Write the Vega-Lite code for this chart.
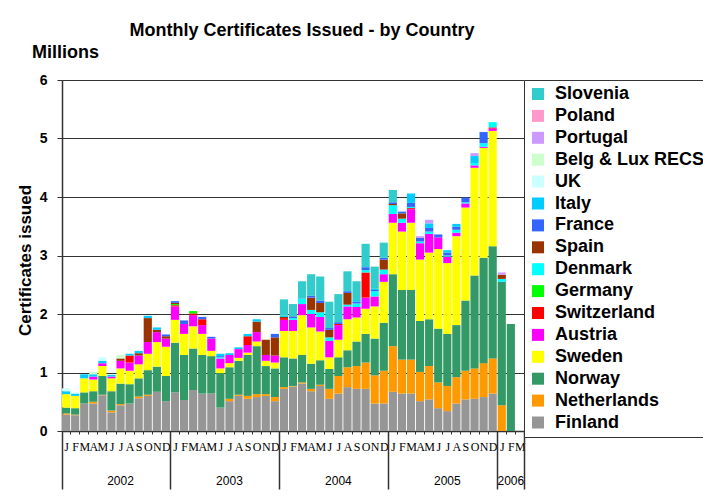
{
  "$schema": "https://vega.github.io/schema/vega-lite/v6.json",
  "width": 462,
  "height": 351,
  "autosize": {"type": "none"},
  "padding": {"left": 62, "top": 80, "right": 179, "bottom": 68},
  "background": "white",
  "config": {"font": "Liberation Sans", "view": {"stroke": null}},
  "title": {"text": "Monthly Certificates Issued - by Country", "fontSize": 18, "fontWeight": "bold", "font": "Liberation Sans", "anchor": "middle", "dx": 9, "offset": 3, "color": "black"},
  "data": {"name": "certs"},
  "datasets": {
    "countries": [
      {"country": "Finland", "stackOrder": 1},
      {"country": "Netherlands", "stackOrder": 2},
      {"country": "Norway", "stackOrder": 3},
      {"country": "Sweden", "stackOrder": 4},
      {"country": "Austria", "stackOrder": 5},
      {"country": "Switzerland", "stackOrder": 6},
      {"country": "Germany", "stackOrder": 7},
      {"country": "Denmark", "stackOrder": 8},
      {"country": "Spain", "stackOrder": 9},
      {"country": "France", "stackOrder": 10},
      {"country": "Italy", "stackOrder": 11},
      {"country": "UK", "stackOrder": 12},
      {"country": "Belg & Lux RECS", "stackOrder": 13},
      {"country": "Portugal", "stackOrder": 14},
      {"country": "Poland", "stackOrder": 15},
      {"country": "Slovenia", "stackOrder": 16}
    ],
    "certs": [
      {"month": "2002-01", "country": "Finland", "value": 0.28},
      {"month": "2002-01", "country": "Netherlands", "value": 0.02},
      {"month": "2002-01", "country": "Norway", "value": 0.10},
      {"month": "2002-01", "country": "Sweden", "value": 0.23},
      {"month": "2002-01", "country": "Italy", "value": 0.05},
      {"month": "2002-01", "country": "UK", "value": 0.05},
      {"month": "2002-02", "country": "Finland", "value": 0.27},
      {"month": "2002-02", "country": "Netherlands", "value": 0.01},
      {"month": "2002-02", "country": "Norway", "value": 0.11},
      {"month": "2002-02", "country": "Sweden", "value": 0.21},
      {"month": "2002-02", "country": "Italy", "value": 0.04},
      {"month": "2002-02", "country": "UK", "value": 0.02},
      {"month": "2002-03", "country": "Finland", "value": 0.47},
      {"month": "2002-03", "country": "Norway", "value": 0.19},
      {"month": "2002-03", "country": "Sweden", "value": 0.24},
      {"month": "2002-03", "country": "Italy", "value": 0.07},
      {"month": "2002-04", "country": "Finland", "value": 0.47},
      {"month": "2002-04", "country": "Netherlands", "value": 0.03},
      {"month": "2002-04", "country": "Norway", "value": 0.18},
      {"month": "2002-04", "country": "Sweden", "value": 0.20},
      {"month": "2002-04", "country": "Austria", "value": 0.05},
      {"month": "2002-04", "country": "Italy", "value": 0.04},
      {"month": "2002-04", "country": "Belg & Lux RECS", "value": 0.04},
      {"month": "2002-05", "country": "Finland", "value": 0.61},
      {"month": "2002-05", "country": "Netherlands", "value": 0.01},
      {"month": "2002-05", "country": "Norway", "value": 0.32},
      {"month": "2002-05", "country": "Sweden", "value": 0.17},
      {"month": "2002-05", "country": "Austria", "value": 0.05},
      {"month": "2002-05", "country": "Italy", "value": 0.04},
      {"month": "2002-05", "country": "UK", "value": 0.06},
      {"month": "2002-06", "country": "Finland", "value": 0.32},
      {"month": "2002-06", "country": "Netherlands", "value": 0.03},
      {"month": "2002-06", "country": "Norway", "value": 0.33},
      {"month": "2002-06", "country": "Sweden", "value": 0.22},
      {"month": "2002-06", "country": "Austria", "value": 0.03},
      {"month": "2002-06", "country": "Italy", "value": 0.03},
      {"month": "2002-07", "country": "Finland", "value": 0.44},
      {"month": "2002-07", "country": "Netherlands", "value": 0.02},
      {"month": "2002-07", "country": "Norway", "value": 0.35},
      {"month": "2002-07", "country": "Sweden", "value": 0.26},
      {"month": "2002-07", "country": "Austria", "value": 0.13},
      {"month": "2002-07", "country": "Spain", "value": 0.04},
      {"month": "2002-07", "country": "Belg & Lux RECS", "value": 0.06},
      {"month": "2002-08", "country": "Finland", "value": 0.47},
      {"month": "2002-08", "country": "Norway", "value": 0.33},
      {"month": "2002-08", "country": "Sweden", "value": 0.23},
      {"month": "2002-08", "country": "Austria", "value": 0.14},
      {"month": "2002-08", "country": "Switzerland", "value": 0.12},
      {"month": "2002-08", "country": "Italy", "value": 0.03},
      {"month": "2002-09", "country": "Finland", "value": 0.56},
      {"month": "2002-09", "country": "Netherlands", "value": 0.03},
      {"month": "2002-09", "country": "Norway", "value": 0.31},
      {"month": "2002-09", "country": "Sweden", "value": 0.24},
      {"month": "2002-09", "country": "Austria", "value": 0.15},
      {"month": "2002-09", "country": "Spain", "value": 0.04},
      {"month": "2002-09", "country": "Italy", "value": 0.04},
      {"month": "2002-10", "country": "Finland", "value": 0.60},
      {"month": "2002-10", "country": "Netherlands", "value": 0.02},
      {"month": "2002-10", "country": "Norway", "value": 0.42},
      {"month": "2002-10", "country": "Sweden", "value": 0.28},
      {"month": "2002-10", "country": "Austria", "value": 0.20},
      {"month": "2002-10", "country": "Spain", "value": 0.41},
      {"month": "2002-10", "country": "Italy", "value": 0.04},
      {"month": "2002-11", "country": "Finland", "value": 0.67},
      {"month": "2002-11", "country": "Norway", "value": 0.43},
      {"month": "2002-11", "country": "Sweden", "value": 0.42},
      {"month": "2002-11", "country": "Austria", "value": 0.17},
      {"month": "2002-11", "country": "Spain", "value": 0.04},
      {"month": "2002-11", "country": "Italy", "value": 0.04},
      {"month": "2002-12", "country": "Finland", "value": 0.51},
      {"month": "2002-12", "country": "Norway", "value": 0.43},
      {"month": "2002-12", "country": "Sweden", "value": 0.50},
      {"month": "2002-12", "country": "Austria", "value": 0.14},
      {"month": "2002-12", "country": "Spain", "value": 0.04},
      {"month": "2002-12", "country": "France", "value": 0.03},
      {"month": "2003-01", "country": "Finland", "value": 0.66},
      {"month": "2003-01", "country": "Norway", "value": 0.85},
      {"month": "2003-01", "country": "Sweden", "value": 0.39},
      {"month": "2003-01", "country": "Austria", "value": 0.23},
      {"month": "2003-01", "country": "Switzerland", "value": 0.02},
      {"month": "2003-01", "country": "Germany", "value": 0.02},
      {"month": "2003-01", "country": "Spain", "value": 0.02},
      {"month": "2003-01", "country": "France", "value": 0.03},
      {"month": "2003-02", "country": "Finland", "value": 0.53},
      {"month": "2003-02", "country": "Norway", "value": 0.77},
      {"month": "2003-02", "country": "Sweden", "value": 0.36},
      {"month": "2003-02", "country": "Austria", "value": 0.17},
      {"month": "2003-02", "country": "France", "value": 0.06},
      {"month": "2003-03", "country": "Finland", "value": 0.70},
      {"month": "2003-03", "country": "Norway", "value": 0.71},
      {"month": "2003-03", "country": "Sweden", "value": 0.38},
      {"month": "2003-03", "country": "Austria", "value": 0.19},
      {"month": "2003-03", "country": "Switzerland", "value": 0.03},
      {"month": "2003-03", "country": "Germany", "value": 0.04},
      {"month": "2003-04", "country": "Finland", "value": 0.64},
      {"month": "2003-04", "country": "Norway", "value": 0.66},
      {"month": "2003-04", "country": "Sweden", "value": 0.36},
      {"month": "2003-04", "country": "Austria", "value": 0.15},
      {"month": "2003-04", "country": "Switzerland", "value": 0.10},
      {"month": "2003-04", "country": "France", "value": 0.04},
      {"month": "2003-05", "country": "Finland", "value": 0.64},
      {"month": "2003-05", "country": "Norway", "value": 0.64},
      {"month": "2003-05", "country": "Sweden", "value": 0.09},
      {"month": "2003-05", "country": "Austria", "value": 0.21},
      {"month": "2003-05", "country": "France", "value": 0.03},
      {"month": "2003-06", "country": "Finland", "value": 0.40},
      {"month": "2003-06", "country": "Norway", "value": 0.59},
      {"month": "2003-06", "country": "Sweden", "value": 0.08},
      {"month": "2003-06", "country": "Austria", "value": 0.17},
      {"month": "2003-06", "country": "Denmark", "value": 0.02},
      {"month": "2003-06", "country": "France", "value": 0.02},
      {"month": "2003-06", "country": "Italy", "value": 0.04},
      {"month": "2003-07", "country": "Finland", "value": 0.51},
      {"month": "2003-07", "country": "Netherlands", "value": 0.04},
      {"month": "2003-07", "country": "Norway", "value": 0.54},
      {"month": "2003-07", "country": "Sweden", "value": 0.07},
      {"month": "2003-07", "country": "Austria", "value": 0.14},
      {"month": "2003-07", "country": "Italy", "value": 0.03},
      {"month": "2003-08", "country": "Finland", "value": 0.60},
      {"month": "2003-08", "country": "Netherlands", "value": 0.02},
      {"month": "2003-08", "country": "Norway", "value": 0.58},
      {"month": "2003-08", "country": "Sweden", "value": 0.05},
      {"month": "2003-08", "country": "Austria", "value": 0.15},
      {"month": "2003-08", "country": "Italy", "value": 0.03},
      {"month": "2003-09", "country": "Finland", "value": 0.55},
      {"month": "2003-09", "country": "Netherlands", "value": 0.05},
      {"month": "2003-09", "country": "Norway", "value": 0.70},
      {"month": "2003-09", "country": "Sweden", "value": 0.04},
      {"month": "2003-09", "country": "Austria", "value": 0.13},
      {"month": "2003-09", "country": "Switzerland", "value": 0.15},
      {"month": "2003-09", "country": "Italy", "value": 0.04},
      {"month": "2003-10", "country": "Finland", "value": 0.58},
      {"month": "2003-10", "country": "Netherlands", "value": 0.05},
      {"month": "2003-10", "country": "Norway", "value": 0.82},
      {"month": "2003-10", "country": "Sweden", "value": 0.08},
      {"month": "2003-10", "country": "Austria", "value": 0.16},
      {"month": "2003-10", "country": "Spain", "value": 0.18},
      {"month": "2003-10", "country": "Italy", "value": 0.04},
      {"month": "2003-11", "country": "Finland", "value": 0.60},
      {"month": "2003-11", "country": "Netherlands", "value": 0.03},
      {"month": "2003-11", "country": "Norway", "value": 0.48},
      {"month": "2003-11", "country": "Sweden", "value": 0.09},
      {"month": "2003-11", "country": "Austria", "value": 0.10},
      {"month": "2003-11", "country": "Spain", "value": 0.26},
      {"month": "2003-12", "country": "Finland", "value": 0.51},
      {"month": "2003-12", "country": "Netherlands", "value": 0.07},
      {"month": "2003-12", "country": "Norway", "value": 0.49},
      {"month": "2003-12", "country": "Sweden", "value": 0.10},
      {"month": "2003-12", "country": "Austria", "value": 0.12},
      {"month": "2003-12", "country": "Spain", "value": 0.31},
      {"month": "2003-12", "country": "France", "value": 0.06},
      {"month": "2004-01", "country": "Finland", "value": 0.72},
      {"month": "2004-01", "country": "Netherlands", "value": 0.03},
      {"month": "2004-01", "country": "Norway", "value": 0.51},
      {"month": "2004-01", "country": "Sweden", "value": 0.45},
      {"month": "2004-01", "country": "Austria", "value": 0.19},
      {"month": "2004-01", "country": "Switzerland", "value": 0.03},
      {"month": "2004-01", "country": "Spain", "value": 0.02},
      {"month": "2004-01", "country": "Italy", "value": 0.02},
      {"month": "2004-01", "country": "Slovenia", "value": 0.28},
      {"month": "2004-02", "country": "Finland", "value": 0.76},
      {"month": "2004-02", "country": "Netherlands", "value": 0.01},
      {"month": "2004-02", "country": "Norway", "value": 0.47},
      {"month": "2004-02", "country": "Sweden", "value": 0.47},
      {"month": "2004-02", "country": "Austria", "value": 0.19},
      {"month": "2004-02", "country": "Denmark", "value": 0.03},
      {"month": "2004-02", "country": "France", "value": 0.03},
      {"month": "2004-02", "country": "Slovenia", "value": 0.21},
      {"month": "2004-03", "country": "Finland", "value": 0.81},
      {"month": "2004-03", "country": "Netherlands", "value": 0.02},
      {"month": "2004-03", "country": "Norway", "value": 0.47},
      {"month": "2004-03", "country": "Sweden", "value": 0.68},
      {"month": "2004-03", "country": "Austria", "value": 0.19},
      {"month": "2004-03", "country": "Denmark", "value": 0.09},
      {"month": "2004-03", "country": "Slovenia", "value": 0.30},
      {"month": "2004-04", "country": "Finland", "value": 0.68},
      {"month": "2004-04", "country": "Netherlands", "value": 0.04},
      {"month": "2004-04", "country": "Norway", "value": 0.43},
      {"month": "2004-04", "country": "Sweden", "value": 0.62},
      {"month": "2004-04", "country": "Austria", "value": 0.23},
      {"month": "2004-04", "country": "Denmark", "value": 0.07},
      {"month": "2004-04", "country": "Spain", "value": 0.21},
      {"month": "2004-04", "country": "France", "value": 0.03},
      {"month": "2004-04", "country": "Slovenia", "value": 0.37},
      {"month": "2004-05", "country": "Finland", "value": 0.77},
      {"month": "2004-05", "country": "Netherlands", "value": 0.02},
      {"month": "2004-05", "country": "Norway", "value": 0.42},
      {"month": "2004-05", "country": "Sweden", "value": 0.49},
      {"month": "2004-05", "country": "Austria", "value": 0.25},
      {"month": "2004-05", "country": "Denmark", "value": 0.08},
      {"month": "2004-05", "country": "Spain", "value": 0.16},
      {"month": "2004-05", "country": "France", "value": 0.04},
      {"month": "2004-05", "country": "Slovenia", "value": 0.41},
      {"month": "2004-06", "country": "Finland", "value": 0.55},
      {"month": "2004-06", "country": "Netherlands", "value": 0.17},
      {"month": "2004-06", "country": "Norway", "value": 0.34},
      {"month": "2004-06", "country": "Sweden", "value": 0.20},
      {"month": "2004-06", "country": "Austria", "value": 0.28},
      {"month": "2004-06", "country": "Denmark", "value": 0.06},
      {"month": "2004-06", "country": "Spain", "value": 0.13},
      {"month": "2004-06", "country": "France", "value": 0.03},
      {"month": "2004-06", "country": "Slovenia", "value": 0.45},
      {"month": "2004-07", "country": "Finland", "value": 0.64},
      {"month": "2004-07", "country": "Netherlands", "value": 0.30},
      {"month": "2004-07", "country": "Norway", "value": 0.32},
      {"month": "2004-07", "country": "Sweden", "value": 0.30},
      {"month": "2004-07", "country": "Austria", "value": 0.25},
      {"month": "2004-07", "country": "Switzerland", "value": 0.02},
      {"month": "2004-07", "country": "France", "value": 0.03},
      {"month": "2004-07", "country": "Slovenia", "value": 0.48},
      {"month": "2004-08", "country": "Finland", "value": 0.75},
      {"month": "2004-08", "country": "Netherlands", "value": 0.34},
      {"month": "2004-08", "country": "Norway", "value": 0.29},
      {"month": "2004-08", "country": "Sweden", "value": 0.53},
      {"month": "2004-08", "country": "Austria", "value": 0.22},
      {"month": "2004-08", "country": "Denmark", "value": 0.03},
      {"month": "2004-08", "country": "Spain", "value": 0.20},
      {"month": "2004-08", "country": "France", "value": 0.03},
      {"month": "2004-08", "country": "Slovenia", "value": 0.34},
      {"month": "2004-09", "country": "Finland", "value": 0.72},
      {"month": "2004-09", "country": "Netherlands", "value": 0.39},
      {"month": "2004-09", "country": "Norway", "value": 0.42},
      {"month": "2004-09", "country": "Sweden", "value": 0.41},
      {"month": "2004-09", "country": "Austria", "value": 0.18},
      {"month": "2004-09", "country": "Denmark", "value": 0.06},
      {"month": "2004-09", "country": "France", "value": 0.03},
      {"month": "2004-09", "country": "Italy", "value": 0.03},
      {"month": "2004-09", "country": "Slovenia", "value": 0.32},
      {"month": "2004-10", "country": "Finland", "value": 0.72},
      {"month": "2004-10", "country": "Netherlands", "value": 0.45},
      {"month": "2004-10", "country": "Norway", "value": 0.49},
      {"month": "2004-10", "country": "Sweden", "value": 0.43},
      {"month": "2004-10", "country": "Austria", "value": 0.19},
      {"month": "2004-10", "country": "Switzerland", "value": 0.43},
      {"month": "2004-10", "country": "Denmark", "value": 0.04},
      {"month": "2004-10", "country": "France", "value": 0.05},
      {"month": "2004-10", "country": "Slovenia", "value": 0.40},
      {"month": "2004-11", "country": "Finland", "value": 0.47},
      {"month": "2004-11", "country": "Netherlands", "value": 0.48},
      {"month": "2004-11", "country": "Norway", "value": 0.63},
      {"month": "2004-11", "country": "Sweden", "value": 0.55},
      {"month": "2004-11", "country": "Austria", "value": 0.17},
      {"month": "2004-11", "country": "Denmark", "value": 0.09},
      {"month": "2004-11", "country": "France", "value": 0.02},
      {"month": "2004-11", "country": "Italy", "value": 0.02},
      {"month": "2004-11", "country": "Slovenia", "value": 0.38},
      {"month": "2004-12", "country": "Finland", "value": 0.47},
      {"month": "2004-12", "country": "Netherlands", "value": 0.56},
      {"month": "2004-12", "country": "Norway", "value": 0.82},
      {"month": "2004-12", "country": "Sweden", "value": 0.70},
      {"month": "2004-12", "country": "Austria", "value": 0.13},
      {"month": "2004-12", "country": "Denmark", "value": 0.08},
      {"month": "2004-12", "country": "Spain", "value": 0.17},
      {"month": "2004-12", "country": "France", "value": 0.03},
      {"month": "2004-12", "country": "Slovenia", "value": 0.26},
      {"month": "2005-01", "country": "Finland", "value": 0.67},
      {"month": "2005-01", "country": "Netherlands", "value": 0.78},
      {"month": "2005-01", "country": "Norway", "value": 1.23},
      {"month": "2005-01", "country": "Sweden", "value": 0.88},
      {"month": "2005-01", "country": "Austria", "value": 0.15},
      {"month": "2005-01", "country": "Denmark", "value": 0.15},
      {"month": "2005-01", "country": "Spain", "value": 0.02},
      {"month": "2005-01", "country": "France", "value": 0.03},
      {"month": "2005-01", "country": "Slovenia", "value": 0.21},
      {"month": "2005-02", "country": "Finland", "value": 0.64},
      {"month": "2005-02", "country": "Netherlands", "value": 0.58},
      {"month": "2005-02", "country": "Norway", "value": 1.19},
      {"month": "2005-02", "country": "Sweden", "value": 1.00},
      {"month": "2005-02", "country": "Austria", "value": 0.15},
      {"month": "2005-02", "country": "Denmark", "value": 0.07},
      {"month": "2005-02", "country": "Spain", "value": 0.09},
      {"month": "2005-02", "country": "France", "value": 0.03},
      {"month": "2005-03", "country": "Finland", "value": 0.64},
      {"month": "2005-03", "country": "Netherlands", "value": 0.58},
      {"month": "2005-03", "country": "Norway", "value": 1.19},
      {"month": "2005-03", "country": "Sweden", "value": 1.15},
      {"month": "2005-03", "country": "Austria", "value": 0.23},
      {"month": "2005-03", "country": "Switzerland", "value": 0.02},
      {"month": "2005-03", "country": "Denmark", "value": 0.02},
      {"month": "2005-03", "country": "France", "value": 0.07},
      {"month": "2005-03", "country": "Italy", "value": 0.16},
      {"month": "2005-04", "country": "Finland", "value": 0.51},
      {"month": "2005-04", "country": "Netherlands", "value": 0.50},
      {"month": "2005-04", "country": "Norway", "value": 0.87},
      {"month": "2005-04", "country": "Sweden", "value": 1.05},
      {"month": "2005-04", "country": "Austria", "value": 0.28},
      {"month": "2005-04", "country": "Denmark", "value": 0.03},
      {"month": "2005-04", "country": "France", "value": 0.06},
      {"month": "2005-04", "country": "Portugal", "value": 0.03},
      {"month": "2005-05", "country": "Finland", "value": 0.54},
      {"month": "2005-05", "country": "Netherlands", "value": 0.57},
      {"month": "2005-05", "country": "Norway", "value": 0.80},
      {"month": "2005-05", "country": "Sweden", "value": 1.14},
      {"month": "2005-05", "country": "Austria", "value": 0.32},
      {"month": "2005-05", "country": "Denmark", "value": 0.04},
      {"month": "2005-05", "country": "France", "value": 0.06},
      {"month": "2005-05", "country": "Italy", "value": 0.08},
      {"month": "2005-05", "country": "Portugal", "value": 0.06},
      {"month": "2005-06", "country": "Finland", "value": 0.39},
      {"month": "2005-06", "country": "Netherlands", "value": 0.44},
      {"month": "2005-06", "country": "Norway", "value": 0.92},
      {"month": "2005-06", "country": "Sweden", "value": 1.36},
      {"month": "2005-06", "country": "Austria", "value": 0.20},
      {"month": "2005-06", "country": "France", "value": 0.05},
      {"month": "2005-07", "country": "Finland", "value": 0.34},
      {"month": "2005-07", "country": "Netherlands", "value": 0.43},
      {"month": "2005-07", "country": "Norway", "value": 0.89},
      {"month": "2005-07", "country": "Sweden", "value": 1.21},
      {"month": "2005-07", "country": "Austria", "value": 0.11},
      {"month": "2005-07", "country": "Denmark", "value": 0.02},
      {"month": "2005-07", "country": "France", "value": 0.05},
      {"month": "2005-07", "country": "Italy", "value": 0.04},
      {"month": "2005-08", "country": "Finland", "value": 0.47},
      {"month": "2005-08", "country": "Netherlands", "value": 0.45},
      {"month": "2005-08", "country": "Norway", "value": 0.89},
      {"month": "2005-08", "country": "Sweden", "value": 1.52},
      {"month": "2005-08", "country": "Austria", "value": 0.06},
      {"month": "2005-08", "country": "Denmark", "value": 0.05},
      {"month": "2005-08", "country": "France", "value": 0.05},
      {"month": "2005-08", "country": "Italy", "value": 0.05},
      {"month": "2005-09", "country": "Finland", "value": 0.54},
      {"month": "2005-09", "country": "Netherlands", "value": 0.49},
      {"month": "2005-09", "country": "Norway", "value": 1.20},
      {"month": "2005-09", "country": "Sweden", "value": 1.59},
      {"month": "2005-09", "country": "Austria", "value": 0.07},
      {"month": "2005-09", "country": "Denmark", "value": 0.02},
      {"month": "2005-09", "country": "France", "value": 0.08},
      {"month": "2005-10", "country": "Finland", "value": 0.55},
      {"month": "2005-10", "country": "Netherlands", "value": 0.52},
      {"month": "2005-10", "country": "Norway", "value": 1.59},
      {"month": "2005-10", "country": "Sweden", "value": 1.84},
      {"month": "2005-10", "country": "Austria", "value": 0.04},
      {"month": "2005-10", "country": "Denmark", "value": 0.04},
      {"month": "2005-10", "country": "Italy", "value": 0.12},
      {"month": "2005-10", "country": "Portugal", "value": 0.05},
      {"month": "2005-11", "country": "Finland", "value": 0.58},
      {"month": "2005-11", "country": "Netherlands", "value": 0.58},
      {"month": "2005-11", "country": "Norway", "value": 1.80},
      {"month": "2005-11", "country": "Sweden", "value": 1.88},
      {"month": "2005-11", "country": "Austria", "value": 0.02},
      {"month": "2005-11", "country": "Denmark", "value": 0.06},
      {"month": "2005-11", "country": "France", "value": 0.19},
      {"month": "2005-12", "country": "Finland", "value": 0.64},
      {"month": "2005-12", "country": "Netherlands", "value": 0.60},
      {"month": "2005-12", "country": "Norway", "value": 1.92},
      {"month": "2005-12", "country": "Sweden", "value": 1.97},
      {"month": "2005-12", "country": "Austria", "value": 0.04},
      {"month": "2005-12", "country": "Switzerland", "value": 0.02},
      {"month": "2005-12", "country": "Denmark", "value": 0.09},
      {"month": "2006-01", "country": "Netherlands", "value": 0.44},
      {"month": "2006-01", "country": "Norway", "value": 2.11},
      {"month": "2006-01", "country": "Denmark", "value": 0.05},
      {"month": "2006-01", "country": "Spain", "value": 0.07},
      {"month": "2006-01", "country": "Portugal", "value": 0.04},
      {"month": "2006-02", "country": "Norway", "value": 1.83}
    ]
  },
  "layer": [
    {
      "transform": [{"lookup": "country", "from": {"data": {"name": "countries"}, "key": "country", "fields": ["stackOrder"]}}],
      "mark": {"type": "bar"},
      "encoding": {
        "x": {
          "field": "month", "type": "ordinal",
          "scale": {"domain": ["2002-01","2002-02","2002-03","2002-04","2002-05","2002-06","2002-07","2002-08","2002-09","2002-10","2002-11","2002-12","2003-01","2003-02","2003-03","2003-04","2003-05","2003-06","2003-07","2003-08","2003-09","2003-10","2003-11","2003-12","2004-01","2004-02","2004-03","2004-04","2004-05","2004-06","2004-07","2004-08","2004-09","2004-10","2004-11","2004-12","2005-01","2005-02","2005-03","2005-04","2005-05","2005-06","2005-07","2005-08","2005-09","2005-10","2005-11","2005-12","2006-01","2006-02","2006-03"], "paddingInner": 0.1, "paddingOuter": 0},
          "axis": {"orient": "bottom", "title": null, "labelExpr": "['J','F','M','A','M','J','J','A','S','O','N','D'][toNumber(substring(datum.value,5,7))-1]", "labelAngle": 0, "labelFont": "Liberation Sans Narrow", "labelFontSize": 12, "labelColor": "black", "labelPadding": 7, "labelOverlap": false, "tickBand": "extent", "tickSize": 3, "tickColor": "#333", "domainColor": "#333", "domainWidth": 1.5, "grid": false}
        },
        "y": {
          "field": "value", "type": "quantitative", "stack": "zero",
          "scale": {"domain": [0, 6], "nice": false},
          "axis": {"orient": "left", "values": [0,1,2,3,4,5,6], "format": "d", "title": "Certificates issued", "titleFontSize": 17, "titleFontWeight": "bold", "titleColor": "black", "titleX": -37, "titleY": 180, "titleAlign": "center", "titleBaseline": "middle", "titleAngle": -90, "labelFontSize": 14, "labelFontWeight": "bold", "labelColor": "black", "labelPadding": 10, "tickSize": 5, "tickColor": "#333", "domainColor": "#333", "domainWidth": 1.5, "grid": true, "gridColor": "#333", "gridWidth": 1.2}
        },
        "order": {"field": "stackOrder", "type": "quantitative", "sort": "ascending"},
        "color": {
          "field": "country", "type": "nominal",
          "sort": ["Slovenia","Poland","Portugal","Belg & Lux RECS","UK","Italy","France","Spain","Denmark","Germany","Switzerland","Austria","Sweden","Norway","Netherlands","Finland"],
          "scale": {"domain": ["Slovenia","Poland","Portugal","Belg & Lux RECS","UK","Italy","France","Spain","Denmark","Germany","Switzerland","Austria","Sweden","Norway","Netherlands","Finland"], "range": ["#33CCCC","#FF99CC","#CC99FF","#CCFFCC","#CCFFFF","#00CCFF","#3366FF","#993300","#00FFFF","#00FF00","#FF0000","#FF00FF","#FFFF00","#339966","#FF9900","#969696"]},
          "legend": {"title": null, "orient": "none", "legendX": 462, "legendY": 0, "symbolType": "square", "symbolSize": 144, "symbolStrokeWidth": 0, "labelFontSize": 18, "labelFontWeight": "bold", "labelColor": "black", "labelOffset": 8, "rowPadding": 3.9, "padding": 5, "strokeColor": "#333", "fillColor": "white", "labelLimit": 300}
        }
      }
    },
    {
      "mark": {"type": "point", "opacity": 0},
      "encoding": {
        "x": {
          "field": "month", "type": "ordinal",
          "scale": {"domain": ["2002-01","2002-02","2002-03","2002-04","2002-05","2002-06","2002-07","2002-08","2002-09","2002-10","2002-11","2002-12","2003-01","2003-02","2003-03","2003-04","2003-05","2003-06","2003-07","2003-08","2003-09","2003-10","2003-11","2003-12","2004-01","2004-02","2004-03","2004-04","2004-05","2004-06","2004-07","2004-08","2004-09","2004-10","2004-11","2004-12","2005-01","2005-02","2005-03","2005-04","2005-05","2005-06","2005-07","2005-08","2005-09","2005-10","2005-11","2005-12","2006-01","2006-02","2006-03"], "paddingInner": 0.1, "paddingOuter": 0},
          "axis": {"orient": "bottom", "title": null, "values": ["2002-01","2003-01","2004-01","2005-01","2006-01"], "bandPosition": 0, "labels": false, "domain": false, "grid": false, "tickSize": 58, "tickColor": "#333", "tickWidth": 1.5}
        },
        "y": {
          "field": "value", "type": "quantitative",
          "scale": {"domain": [0, 6], "nice": false},
          "axis": {"orient": "left", "title": "Millions", "titleAngle": 0, "titleX": 3, "titleY": -28, "titleAlign": "center", "titleBaseline": "middle", "titleFontSize": 18, "titleFontWeight": "bold", "titleColor": "black", "labels": false, "ticks": false, "domain": false, "grid": false}
        }
      }
    },
    {
      "mark": {"type": "point", "opacity": 0},
      "encoding": {
        "x": {
          "field": "month", "type": "ordinal",
          "scale": {"domain": ["2002-01","2002-02","2002-03","2002-04","2002-05","2002-06","2002-07","2002-08","2002-09","2002-10","2002-11","2002-12","2003-01","2003-02","2003-03","2003-04","2003-05","2003-06","2003-07","2003-08","2003-09","2003-10","2003-11","2003-12","2004-01","2004-02","2004-03","2004-04","2004-05","2004-06","2004-07","2004-08","2004-09","2004-10","2004-11","2004-12","2005-01","2005-02","2005-03","2005-04","2005-05","2005-06","2005-07","2005-08","2005-09","2005-10","2005-11","2005-12","2006-01","2006-02","2006-03"], "paddingInner": 0.1, "paddingOuter": 0},
          "axis": {"orient": "bottom", "title": null, "values": ["2002-07","2003-07","2004-07","2005-07","2006-02"], "bandPosition": 0, "ticks": false, "domain": false, "grid": false, "labelExpr": "substring(datum.value,0,4)", "labelAngle": 0, "labelPadding": 44, "labelFontSize": 12, "labelColor": "black"}
        },
        "y": {"field": "value", "type": "quantitative", "scale": {"domain": [0, 6], "nice": false}, "axis": null}
      }
    },
    {
      "mark": {"type": "point", "opacity": 0},
      "encoding": {
        "x": {
          "field": "month", "type": "ordinal",
          "scale": {"domain": ["2002-01","2002-02","2002-03","2002-04","2002-05","2002-06","2002-07","2002-08","2002-09","2002-10","2002-11","2002-12","2003-01","2003-02","2003-03","2003-04","2003-05","2003-06","2003-07","2003-08","2003-09","2003-10","2003-11","2003-12","2004-01","2004-02","2004-03","2004-04","2004-05","2004-06","2004-07","2004-08","2004-09","2004-10","2004-11","2004-12","2005-01","2005-02","2005-03","2005-04","2005-05","2005-06","2005-07","2005-08","2005-09","2005-10","2005-11","2005-12","2006-01","2006-02","2006-03"], "paddingInner": 0.1, "paddingOuter": 0},
          "axis": {"orient": "bottom", "title": null, "values": ["2006-03"], "bandPosition": 1, "labels": false, "domain": false, "grid": false, "tickSize": 58, "tickColor": "#333", "tickWidth": 1.5}
        },
        "y": {"field": "value", "type": "quantitative", "scale": {"domain": [0, 6], "nice": false}, "axis": null}
      }
    }
  ],
  "resolve": {"axis": {"x": "independent", "y": "independent"}}
}
